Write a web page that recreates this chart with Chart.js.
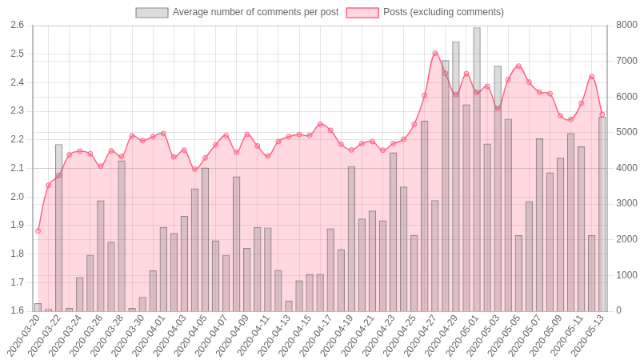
<!DOCTYPE html>
<html>
<head>
<meta charset="utf-8">
<script src="https://cdn.jsdelivr.net/npm/chart.js@4"></script>
<style>
  html, body { margin: 0; padding: 0; background: #fff; overflow: hidden; }
  /* la gráfica original era de 800x451, reducida al 80% */
  #wrap { width: 800px; height: 451px; transform: scale(0.8); transform-origin: 0 0; }
</style>
</head>
<body>
<div id="wrap"><canvas id="grafica"></canvas></div>
<script>
// fechas (una por día)
const fechas = [
  '2020-03-20','2020-03-21','2020-03-22','2020-03-23','2020-03-24','2020-03-25','2020-03-26','2020-03-27',
  '2020-03-28','2020-03-29','2020-03-30','2020-03-31','2020-04-01','2020-04-02','2020-04-03','2020-04-04',
  '2020-04-05','2020-04-06','2020-04-07','2020-04-08','2020-04-09','2020-04-10','2020-04-11','2020-04-12',
  '2020-04-13','2020-04-14','2020-04-15','2020-04-16','2020-04-17','2020-04-18','2020-04-19','2020-04-20',
  '2020-04-21','2020-04-22','2020-04-23','2020-04-24','2020-04-25','2020-04-26','2020-04-27','2020-04-28',
  '2020-04-29','2020-04-30','2020-05-01','2020-05-02','2020-05-03','2020-05-04','2020-05-05','2020-05-06',
  '2020-05-07','2020-05-08','2020-05-09','2020-05-10','2020-05-11','2020-05-12','2020-05-13'
];

// promedio de comentarios por post (eje izquierdo)
const promedioComentarios = [
  1.628, 1.608, 2.185, 1.611, 1.719, 1.797, 1.988, 1.843, 2.128, 1.611, 1.650, 1.743, 1.895, 1.874,
  1.934, 2.030, 2.103, 1.848, 1.797, 2.072, 1.821, 1.895, 1.893, 1.744, 1.637, 1.708, 1.730, 1.730,
  1.890, 1.817, 2.108, 1.924, 1.952, 1.918, 2.156, 2.036, 1.867, 2.267, 1.989, 2.479, 2.545, 2.324,
  2.594, 2.187, 2.459, 2.274, 1.866, 1.985, 2.205, 2.086, 2.137, 2.223, 2.177, 1.866, 2.281
];

// posts sin contar comentarios (eje derecho)
const posts = [
  2248, 3524, 3803, 4379, 4482, 4407, 4063, 4491, 4333, 4910, 4780, 4892, 4975, 4323,
  4510, 3979, 4295, 4658, 4920, 4454, 4948, 4630, 4351, 4752, 4892, 4948, 4929, 5236,
  5068, 4677, 4519, 4696, 4752, 4510, 4696, 4817, 5236, 6045, 7227, 6660, 6064, 6651,
  6129, 6297, 5682, 6483, 6864, 6418, 6138, 6092, 5478, 5375, 5822, 6567, 5515
];

Chart.defaults.color = '#666';
Chart.defaults.font = { family: "'Liberation Sans', Arial, sans-serif", size: 12 };

const ctx = document.getElementById('grafica').getContext('2d');
new Chart(ctx, {
  type: 'bar',
  data: {
    labels: fechas,
    datasets: [{
      label: 'Average number of comments per post',
      data: promedioComentarios,
      yAxisID: 'izq',
      backgroundColor: 'rgba(115,115,115,0.25)',
      borderColor: 'rgba(110,110,110,0.75)',
      borderWidth: 1.2
    }, {
      type: 'line',
      label: 'Posts (excluding comments)',
      data: posts,
      yAxisID: 'der',
      borderColor: 'rgb(255,99,132)',
      backgroundColor: 'rgba(255,99,132,0.25)',
      borderWidth: 1.5,
      pointRadius: 3,
      pointBorderWidth: 1,
      pointBackgroundColor: 'rgba(255,99,132,0.25)',
      tension: 0.4,
      fill: 'origin'
    }]
  },
  options: {
    responsive: true,
    maintainAspectRatio: false,
    animation: false,
    plugins: {
      legend: { labels: { boxWidth: 40, boxHeight: 12 } },
      tooltip: { enabled: false }
    },
    scales: {
      x: {
        ticks: {
          autoSkip: false,
          padding: 2,
          maxRotation: 54, minRotation: 54,
          // solo una fecha de cada dos, como en el original
          callback: function (v, i) { return i % 2 === 0 ? this.getLabelForValue(v) : null; }
        },
        grid: { color: 'rgba(0,0,0,0.1)', drawTicks: false },
        afterFit: s => { s.height = 62; }
      },
      izq: {
        position: 'left',
        min: 1.6, max: 2.6,
        ticks: { stepSize: 0.1, callback: v => v.toFixed(1) },
        grid: { color: 'rgba(0,0,0,0.1)' },
        border: { color: 'rgba(0,0,0,0.25)', width: 2 },
        afterFit: s => { s.width = 41; }
      },
      der: {
        position: 'right',
        min: 0, max: 8000,
        ticks: { stepSize: 1000, callback: v => String(v) },
        grid: { color: 'rgba(0,0,0,0.1)' },
        border: { color: 'rgba(0,0,0,0.25)', width: 2 }
      }
    }
  }
});
</script>
</body>
</html>
